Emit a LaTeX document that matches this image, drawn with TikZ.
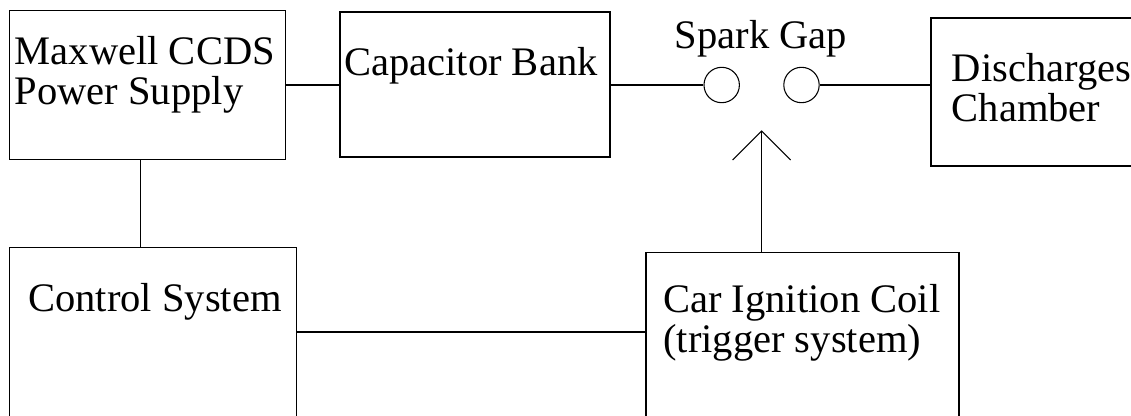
\documentclass[tikz,border=0pt]{standalone}
\usepackage{fontspec}
\setmainfont{Liberation Serif}
\usepackage{tikz}

\begin{document}
\begin{tikzpicture}[x=0.75pt,y=-0.75pt]
    \tikzstyle{every node}+=[inner sep=0pt]
    \tikzstyle{unit}=[draw=black, line width=0.8pt, rectangle]
    \tikzstyle{gap}=[draw=black, line width=0.8pt, circle, minimum size=26.55pt]
    \tikzstyle{lbl}=[anchor=base west, align=left, font=\fontsize{30.4}{30}\selectfont]
    \useasboundingbox (0,0) rectangle (1131,415);
    % blocks
    \node [unit, minimum width=207pt, minimum height=111.75pt] (supply) at (147.5,85) {};
    \node [unit, minimum width=202.5pt, minimum height=108.75pt] (bank) at (475,84.5) {};
    \node [unit, minimum width=201.75pt, minimum height=111pt] (chamber) at (1065.5,92) {};
    \node [unit, minimum width=215.25pt, minimum height=127.05pt] (control) at (153.2,332) {};
    \node [unit, minimum width=234.75pt, minimum height=132.98pt] (coil) at (802.5,341.35) {};
    % spark gap electrodes
    \node [gap] (gapL) at (721.7,85) {};
    \node [gap] (gapR) at (801.5,85) {};
    \coordinate (spark) at (761.5,131);
    % labels (base = last line)
    \node [lbl] (supplytext) at (14.5,104.5) {Maxwell CCDS\\Power Supply};
    \node [lbl] (banktext) at (344,75) {Capacitor Bank};
    \node [lbl, anchor=base] (gaptext) at (761,48) {Spark Gap};
    \node [lbl] (chambertext) at (951.5,121) {Discharges\\Chamber};
    \node [lbl] (controltext) at (28,311) {Control System};
    \node [lbl] (coiltext) at (663,352.5) {Car Ignition Coil\\(trigger system)};
    % wiring
    \draw [black, line width=0.8pt] (supply.east) -- (supply.east -| bank.west);
    \draw [black, line width=0.8pt] (gapL.west -| bank.east) -- (gapL.west);
    \draw [black, line width=0.8pt] (gapR.east) -- (gapR.east -| chamber.west);
    \draw [black, line width=0.8pt] ([xshift=-5.1pt]supply.south) -- ([xshift=-5.1pt]supply.south |- control.north);
    \draw [black, line width=0.8pt] (control.east) -- (control.east -| coil.west);
    \draw [black, line width=0.8pt] (spark |- coil.north) -- (spark);
    \draw [black, line width=0.8pt] (spark) ++(-29,29) -- (spark) -- ++(29,29);
\end{tikzpicture}
\end{document}
